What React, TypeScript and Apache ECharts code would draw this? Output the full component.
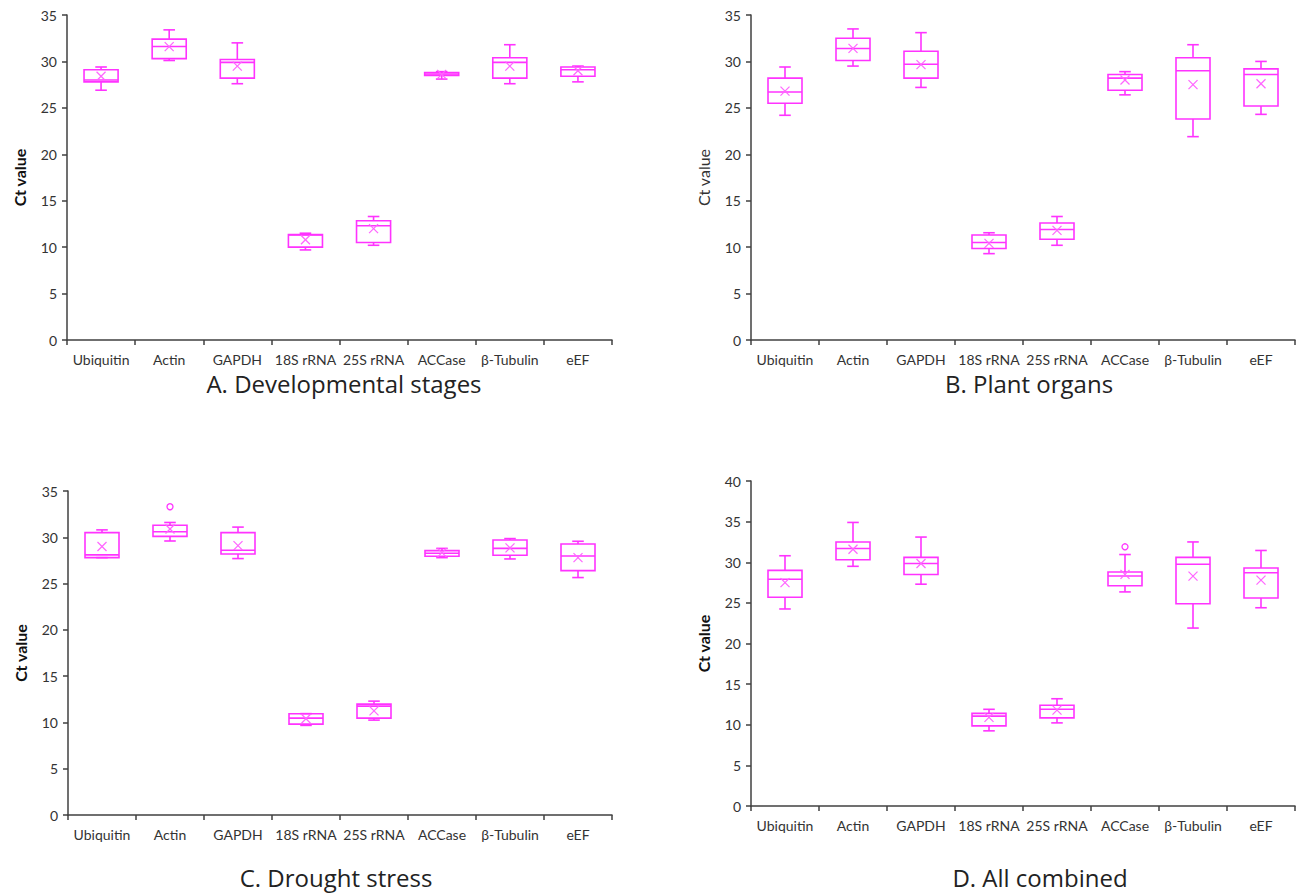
import React, { useEffect, useRef } from "react";
import * as echarts from "echarts";

const categories = ["Ubiquitin", "Actin", "GAPDH", "18S rRNA", "25S rRNA", "ACCase", "β-Tubulin", "eEF"];

// [min, q1, median, q3, max]
const statsA = [
  [26.9, 27.8, 28.0, 29.1, 29.4],
  [30.1, 30.3, 31.6, 32.4, 33.4],
  [27.6, 28.2, 29.9, 30.2, 32.0],
  [9.7, 10.0, 11.3, 11.35, 11.5],
  [10.2, 10.5, 12.3, 12.85, 13.3],
  [28.1, 28.5, 28.65, 28.8, 28.9],
  [27.6, 28.2, 29.9, 30.4, 31.8],
  [27.8, 28.4, 29.1, 29.4, 29.5],
];
const meansA = [28.4, 31.6, 29.5, 10.8, 12.0, 28.6, 29.5, 29.0];
const outliersA: number[][] = [];

const statsB = [
  [24.2, 25.5, 26.7, 28.2, 29.4],
  [29.5, 30.1, 31.4, 32.5, 33.5],
  [27.2, 28.2, 29.7, 31.1, 33.1],
  [9.3, 9.85, 10.5, 11.3, 11.55],
  [10.2, 10.85, 11.9, 12.6, 13.3],
  [26.4, 26.9, 28.2, 28.6, 28.9],
  [21.9, 23.8, 29.0, 30.4, 31.8],
  [24.3, 25.2, 28.6, 29.2, 30.0],
];
const meansB = [26.8, 31.4, 29.65, 10.4, 11.8, 28.0, 27.5, 27.6];
const outliersB: number[][] = [];

const statsC = [
  [27.8, 27.8, 28.1, 30.5, 30.8],
  [29.6, 30.1, 30.6, 31.3, 31.6],
  [27.7, 28.2, 28.6, 30.5, 31.1],
  [9.68, 9.82, 10.47, 10.93, 10.95],
  [10.25, 10.47, 11.76, 11.98, 12.3],
  [27.8, 27.95, 28.27, 28.56, 28.8],
  [27.66, 28.06, 28.8, 29.7, 29.86],
  [25.65, 26.4, 27.98, 29.28, 29.57],
];
const meansC = [29.0, 30.9, 29.1, 10.4, 11.25, 28.35, 28.85, 27.8];
const outliersC = [[1, 33.3]];

const statsD = [
  [24.25, 25.7, 27.9, 29.0, 30.8],
  [29.5, 30.3, 31.7, 32.5, 34.9],
  [27.3, 28.5, 29.85, 30.6, 33.1],
  [9.25, 9.86, 11.06, 11.4, 11.9],
  [10.23, 10.85, 11.9, 12.4, 13.2],
  [26.35, 27.1, 28.3, 28.8, 30.95],
  [21.9, 24.9, 29.75, 30.6, 32.5],
  [24.4, 25.6, 28.7, 29.3, 31.45],
];
const meansD = [27.5, 31.6, 29.85, 10.9, 11.8, 28.5, 28.3, 27.8];
const outliersD = [[5, 31.9]];

const panelTitles = ["A. Developmental stages", "B. Plant organs", "C. Drought stress", "D. All combined"];
const yMaxes = [35, 35, 35, 40];

const COLOR = "#ff33ff";
const MEAN_COLOR = "#ff66ff";

const grids = [
  { left: 67, top: 15, width: 545, height: 325 },
  { left: 751, top: 15, width: 544, height: 325 },
  { left: 68, top: 491, width: 544, height: 324 },
  { left: 751, top: 481, width: 544, height: 325 },
];

function renderBox(params: any, api: any) {
  const i = api.value(0);
  const lo = api.coord([i, api.value(1)]);
  const q1 = api.coord([i, api.value(2)]);
  const med = api.coord([i, api.value(3)]);
  const q3 = api.coord([i, api.value(4)]);
  const hi = api.coord([i, api.value(5)]);
  const mean = api.coord([i, api.value(6)]);
  const band = api.size([1, 0])[0];
  const bw = band * 0.5;
  const cw = band * 0.17;
  const x = lo[0];
  const st = { stroke: COLOR, lineWidth: 1.6, fill: "none" };
  const m = 4.5;
  return {
    type: "group",
    children: [
      { type: "line", shape: { x1: x, y1: hi[1], x2: x, y2: q3[1] }, style: st },
      { type: "line", shape: { x1: x, y1: q1[1], x2: x, y2: lo[1] }, style: st },
      { type: "line", shape: { x1: x - cw / 2, y1: hi[1], x2: x + cw / 2, y2: hi[1] }, style: st },
      { type: "line", shape: { x1: x - cw / 2, y1: lo[1], x2: x + cw / 2, y2: lo[1] }, style: st },
      { type: "rect", shape: { x: x - bw / 2, y: q3[1], width: bw, height: q1[1] - q3[1] }, style: st },
      { type: "line", shape: { x1: x - bw / 2, y1: med[1], x2: x + bw / 2, y2: med[1] }, style: st },
      { type: "line", shape: { x1: x - m, y1: mean[1] - m, x2: x + m, y2: mean[1] + m }, style: { stroke: MEAN_COLOR, lineWidth: 1.2 } },
      { type: "line", shape: { x1: x - m, y1: mean[1] + m, x2: x + m, y2: mean[1] - m }, style: { stroke: MEAN_COLOR, lineWidth: 1.2 } },
    ],
  };
}

export default function App() {
  const ref = useRef<HTMLDivElement>(null);
  useEffect(() => {
    if (!ref.current) return;
    const chart = echarts.init(ref.current, null, { renderer: "svg" });
    const allStats = [statsA, statsB, statsC, statsD];
    const allMeans = [meansA, meansB, meansC, meansD];
    const allOut = [outliersA, outliersB, outliersC, outliersD];
    const boldName = [true, false, true, true];
    const titlePos = [
      [344, 383],
      [1029, 383],
      [336, 877],
      [1040, 877],
    ];
    const axisColor = "#404040";
    const series: any[] = [];
    allStats.forEach((stats, p) => {
      series.push({
        type: "custom",
        xAxisIndex: p,
        yAxisIndex: p,
        renderItem: renderBox,
        encode: { x: 0, y: [1, 2, 3, 4, 5, 6] },
        data: stats.map((s, i) => [i, ...s, allMeans[p][i]]),
        silent: true,
      });
      series.push({
        type: "scatter",
        xAxisIndex: p,
        yAxisIndex: p,
        symbol: "circle",
        symbolSize: 6,
        itemStyle: { color: "#ffffff", borderColor: COLOR, borderWidth: 1.3, opacity: 1 },
        data: allOut[p],
        silent: true,
        z: 5,
      });
    });
    chart.setOption({
      animation: false,
      backgroundColor: "#fff",
      grid: grids.map((g) => ({ ...g, containLabel: false })),
      xAxis: grids.map((_, p) => ({
        type: "category",
        gridIndex: p,
        data: categories,
        boundaryGap: true,
        axisLine: { show: true, lineStyle: { color: axisColor, width: 1.5 } },
        axisTick: { show: true, length: 5, lineStyle: { color: axisColor, width: 1.5 } },
        axisLabel: { interval: 0, fontSize: 14, color: "#333", fontFamily: "Lato", margin: 12 },
        splitLine: { show: false },
      })),
      yAxis: grids.map((_, p) => ({
        type: "value",
        gridIndex: p,
        min: 0,
        max: yMaxes[p],
        interval: 5,
        name: "Ct value",
        nameLocation: "middle",
        nameGap: 40,
        nameTextStyle: {
          fontSize: 16,
          fontWeight: boldName[p] ? "bold" : "normal",
          color: boldName[p] ? "#111" : "#333",
          fontFamily: "Lato",
        },
        axisLine: { show: true, lineStyle: { color: axisColor, width: 1.5 } },
        axisTick: { show: true, length: 5, lineStyle: { color: axisColor, width: 1.5 } },
        axisLabel: { fontSize: 14, color: "#333", fontFamily: "Lato", margin: 10 },
        splitLine: { show: false },
      })),
      graphic: panelTitles.map((t, p) => ({
        type: "text",
        x: titlePos[p][0],
        y: titlePos[p][1],
        style: {
          text: t,
          fontSize: 24,
          fontFamily: "Open Sans",
          fill: "#222",
          textAlign: "center",
          textVerticalAlign: "middle",
        },
      })),
      series,
    });
    return () => chart.dispose();
  }, []);
  return <div ref={ref} style={{ position: "fixed", left: 0, top: 0, width: 1304, height: 895 }} />;
}
